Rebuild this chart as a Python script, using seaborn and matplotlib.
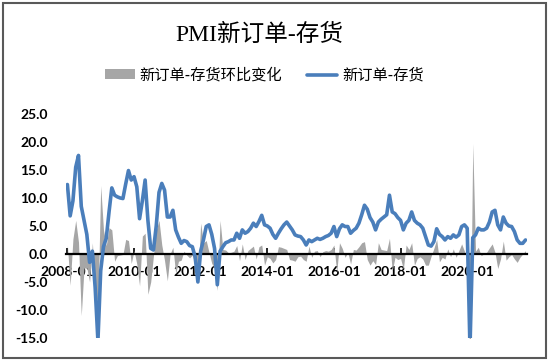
import pandas as pd
import matplotlib
matplotlib.use('Agg')
import matplotlib.pyplot as plt
from matplotlib.patches import Patch, Rectangle
from matplotlib.lines import Line2D
import seaborn as sns

# PMI new orders minus finished-goods inventory, monthly from 2008-01
spread = [
    12.4, 6.8, 9.5, 15.5, 17.6, 8.5, 6.0, 3.5, -1.5, 0.5, -6.0, -15.5,   # 2008
    -3.0, 1.3, 2.8, 7.5, 11.8, 10.5, 10.2, 10.0, 9.9, 12.5, 14.9, 13.2,  # 2009
    13.8, 12.0, 6.3, 9.5, 13.2, 6.0, 1.0, 0.7, 5.0, 11.0, 12.6, 11.4,    # 2010
    6.6, 6.6, 7.8, 4.3, 3.0, 1.9, 2.4, 2.2, 1.5, 1.3, -0.5, -5.0,        # 2011
    0.5, 2.5, 4.9, 5.2, 3.5, 1.0, -5.5, 0.5, 1.3, 2.0, 2.2, 2.5,         # 2012
    2.5, 3.7, 2.8, 4.3, 3.7, 4.0, 4.6, 5.5, 4.9, 5.8, 6.9, 5.2,          # 2013
    5.0, 4.6, 3.5, 2.8, 3.7, 4.5, 5.2, 5.7, 5.0, 4.3, 3.4, 3.2,          # 2014
    3.1, 2.5, 1.6, 2.5, 2.2, 2.5, 2.8, 2.6, 2.8, 3.1, 3.3, 3.7,          # 2015
    4.9, 3.1, 4.5, 5.2, 4.9, 4.9, 3.7, 4.2, 4.6, 5.5, 7.0, 8.7,          # 2016
    8.0, 6.5, 5.7, 4.3, 5.7, 6.2, 6.6, 7.0, 10.5, 7.5, 7.2, 6.5,         # 2017
    6.0, 4.3, 5.5, 6.0, 7.5, 6.0, 5.5, 5.2, 4.6, 3.1, 1.6, 1.4,          # 2018
    2.2, 4.5, 3.5, 3.1, 2.5, 3.1, 2.8, 3.4, 3.0, 3.4, 4.9, 5.2,          # 2019
    4.6, -16.8, 2.9, 3.4, 4.6, 4.3, 4.3, 4.6, 5.7, 7.5, 7.8, 5.2,        # 2020
    4.3, 6.6, 5.5, 5.0, 4.9, 4.0, 2.5, 1.9, 1.9, 2.5,                    # 2021
]

# month-on-month change
mom = [
    1.6, -5.6, 2.7, 6.0, 2.1, -11.0, -2.5, -2.5, -5.0, 2.0, -6.5, -9.2,
    12.2, 4.3, 1.5, 4.7, 4.3, -1.3, -0.3, -0.2, -0.1, 2.6, 2.4, -1.7,
    0.6, -1.8, -5.7, 3.2, 3.7, -7.2, -5.0, -0.3, 4.3, 6.0, 1.6, -1.2,
    -4.8, 0.0, 1.2, -3.5, -1.3, -1.1, 0.5, -0.2, -0.7, -0.2, -1.8, -4.5,
    5.5, 2.0, 2.4, 0.3, -1.7, -2.5, -6.5, 6.0, 0.8, 0.7, 0.2, 0.3,
    0.5, 1.5, -1.2, 1.8, -1.0, 0.6, 1.0, 1.4, -0.9, 1.3, 1.6, -2.0,
    -0.5, -0.8, -1.6, -1.0, 1.3, 1.2, 1.0, 0.8, -1.0, -1.1, -1.3, -0.5,
    -0.4, -1.0, -1.3, 1.4, -0.6, 0.5, 0.6, -0.5, 0.4, 0.6, 0.5, 0.8,
    1.6, -3.3, 2.0, 1.0, -0.6, 0.3, -1.8, 0.8, 0.7, 1.3, 2.0, 2.2,
    -1.0, -2.0, -1.2, -1.9, 2.0, 0.8, 0.7, 0.6, 2.8, -3.0, -0.6, -1.0,
    -0.8, -2.7, 1.6, 0.8, 2.0, -2.0, -0.8, -0.5, -0.9, -2.0, -2.0, -0.4,
    1.0, 2.6, -1.4, -0.6, -0.9, 0.9, -0.5, 0.9, -0.6, 0.6, 1.8, 0.5,
    -0.6, -21.4, 19.7, 0.5, 1.2, -0.3, 0.0, 0.3, 1.1, 1.8, 0.3, -2.6,
    -0.9, 2.3, -1.1, -0.5, -0.1, -0.9, -1.5, -0.6, 0.0, 0.6,
]

tick_labels = ['2008-01', '2010-01', '2012-01', '2014-01', '2016-01', '2018-01', '2020-01']
y_ticks = [25, 20, 15, 10, 5, 0, -5, -10, -15]

df = pd.DataFrame({'idx': range(len(spread)), 'spread': spread, 'mom': mom})

sns.set_theme(style='white')
plt.rcParams['font.family'] = ['Lato', 'Noto Sans CJK SC', 'DejaVu Sans']
plt.rcParams['axes.unicode_minus'] = False

BLUE = '#4A7EBB'
GRAY = '#A6A6A6'
CJK = ['Noto Sans CJK SC', 'DejaVu Sans']

fig = plt.figure(figsize=(5.5, 3.63), dpi=100)
ax = fig.add_axes([0.12, 0.069, 0.838, 0.617])

# month-on-month change drawn as an area, spread as a line
ax.fill_between(df['idx'], df['mom'], 0, color=GRAY, linewidth=0, zorder=1)
sns.lineplot(data=df, x='idx', y='spread', color=BLUE, linewidth=2.6, ax=ax, zorder=3)

ax.set_xlim(-0.5, len(spread) - 0.5)
ax.set_ylim(-15, 25)
ax.set_xlabel('')
ax.set_ylabel('')

for s in ['top', 'right', 'left']:
    ax.spines[s].set_visible(False)
ax.spines['bottom'].set_position(('data', 0))
ax.spines['bottom'].set_color('black')
ax.spines['bottom'].set_linewidth(1.6)
ax.spines['bottom'].set_zorder(2)

ax.set_xticks(range(0, 24 * len(tick_labels), 24))
ax.set_xticklabels(tick_labels, fontsize=10, fontweight='bold', color='black')
ax.set_yticks(y_ticks)
ax.set_yticklabels([f'{v:.1f}' for v in y_ticks], fontsize=10, fontweight='bold', color='black')
ax.tick_params(axis='x', direction='in', length=4, width=1.2, color='black', pad=9, bottom=True)
ax.tick_params(axis='y', length=0, pad=13)

fig.text(0.472, 0.904, 'PMI新订单-存货', ha='center', va='center', fontsize=17, color='black',
         family=['Liberation Serif', 'Noto Sans CJK SC'])

handles = [Patch(facecolor=GRAY, edgecolor='none'), Line2D([], [], color=BLUE, linewidth=2.6)]
leg = fig.legend(handles, ['新订单-存货环比变化', '新订单-存货'], loc='center', bbox_to_anchor=(0.48, 0.793),
                 ncol=2, frameon=False, prop={'family': CJK, 'size': 11}, handlelength=2.0,
                 handleheight=0.6, handletextpad=0.3, columnspacing=1.6)
for t in leg.get_texts():
    t.set_color('black')

fig.patches.append(Rectangle((3 / 550, 1 - 358 / 363), 543 / 550, 355 / 363, transform=fig.transFigure,
                             fill=False, edgecolor='#595959', linewidth=1.5))

fig.savefig('out.png', dpi=100)
